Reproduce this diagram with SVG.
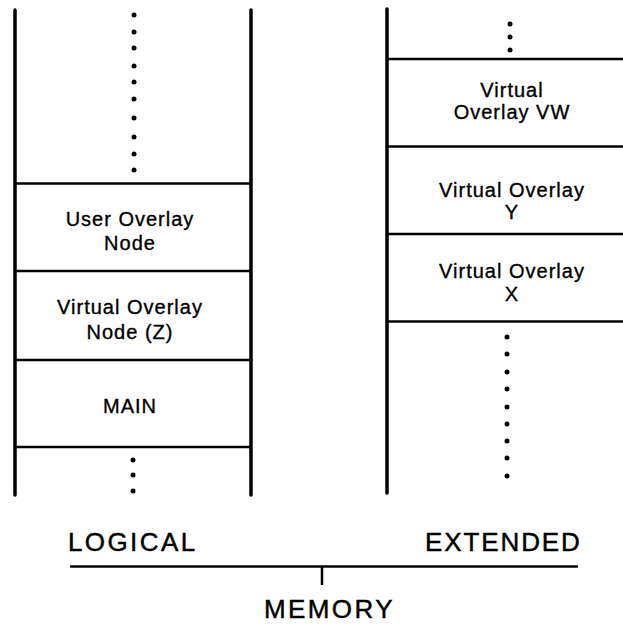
<svg xmlns="http://www.w3.org/2000/svg" width="623" height="624" viewBox="0 0 623 624">
<style>
.wall{stroke:#000;stroke-width:3.5;fill:none;stroke-linecap:round}
.sep{stroke:#000;stroke-width:2.5;fill:none}
.dot{fill:#000}
.lbl{font-family:"Liberation Sans",Arial,sans-serif;font-size:20px;letter-spacing:1px;fill:#000;stroke:#000;stroke-width:0.35;text-anchor:middle}
.big{font-family:"Liberation Sans",Arial,sans-serif;font-size:26px;letter-spacing:2.4px;fill:#000;stroke:#000;stroke-width:0.45}
</style>
<rect width="623" height="624" fill="#fff"/>
<g id="logical-column">
<line class="wall" x1="15" y1="10" x2="15" y2="495"/>
<line class="wall" x1="251" y1="10" x2="251" y2="495"/>
<g id="logical-dots-top">
<circle class="dot" cx="134" cy="15" r="2.5"/><circle class="dot" cx="134" cy="32" r="2.5"/><circle class="dot" cx="134" cy="48" r="2.5"/><circle class="dot" cx="134" cy="66" r="2.5"/><circle class="dot" cx="134" cy="82" r="2.5"/><circle class="dot" cx="134" cy="99" r="2.5"/><circle class="dot" cx="134" cy="118" r="2.5"/><circle class="dot" cx="134" cy="137" r="2.5"/><circle class="dot" cx="134" cy="154" r="2.5"/><circle class="dot" cx="134" cy="170" r="2.5"/>
</g>
<line class="sep" x1="15" y1="183.5" x2="251" y2="183.5"/>
<line class="sep" x1="15" y1="271" x2="251" y2="271"/>
<line class="sep" x1="15" y1="360" x2="251" y2="360"/>
<line class="sep" x1="15" y1="447" x2="251" y2="447"/>
<g id="logical-dots-bottom">
<circle class="dot" cx="133" cy="460" r="2.5"/><circle class="dot" cx="133" cy="475" r="2.5"/><circle class="dot" cx="133" cy="491" r="2.5"/>
</g>
</g>
<g id="user-overlay-node"><text class="lbl" x="130" y="225.5">User Overlay</text><text class="lbl" x="130" y="249.5">Node</text></g>
<g id="virtual-overlay-node-z"><text class="lbl" x="130" y="314">Virtual Overlay</text><text class="lbl" x="130" y="339">Node (Z)</text></g>
<g id="main"><text class="lbl" x="130" y="413">MAIN</text></g>
<g id="extended-column">
<line class="wall" x1="387" y1="9" x2="387" y2="493"/>
<g id="extended-dots-top">
<circle class="dot" cx="510" cy="24" r="2.5"/><circle class="dot" cx="510" cy="37" r="2.5"/><circle class="dot" cx="510" cy="50" r="2.5"/>
</g>
<line class="sep" x1="387" y1="59" x2="623" y2="59"/>
<line class="sep" x1="387" y1="146.5" x2="623" y2="146.5"/>
<line class="sep" x1="387" y1="234" x2="623" y2="234"/>
<line class="sep" x1="387" y1="321.5" x2="623" y2="321.5"/>
<g id="extended-dots-bottom">
<circle class="dot" cx="507" cy="337" r="2.5"/><circle class="dot" cx="507" cy="354" r="2.5"/><circle class="dot" cx="507" cy="372" r="2.5"/><circle class="dot" cx="507" cy="389" r="2.5"/><circle class="dot" cx="507" cy="407" r="2.5"/><circle class="dot" cx="507" cy="424" r="2.5"/><circle class="dot" cx="507" cy="441" r="2.5"/><circle class="dot" cx="507" cy="458" r="2.5"/><circle class="dot" cx="507" cy="476" r="2.5"/>
</g>
</g>
<g id="virtual-overlay-vw"><text class="lbl" x="512" y="96.5">Virtual</text><text class="lbl" x="512" y="119">Overlay VW</text></g>
<g id="virtual-overlay-y"><text class="lbl" x="512" y="196.5">Virtual Overlay</text><text class="lbl" x="512" y="218.5">Y</text></g>
<g id="virtual-overlay-x"><text class="lbl" x="512" y="277.5">Virtual Overlay</text><text class="lbl" x="512" y="300.5">X</text></g>
<g id="connectors">
<line class="sep" x1="70" y1="566.5" x2="578" y2="566.5"/>
<line class="sep" x1="322" y1="566.5" x2="322" y2="585"/>
</g>
<g id="labels">
<text class="big" x="68" y="551">LOGICAL</text>
<text class="big" x="425" y="551" style="letter-spacing:1.9px">EXTENDED</text>
<text class="big" x="264" y="618">MEMORY</text>
</g>
</svg>
